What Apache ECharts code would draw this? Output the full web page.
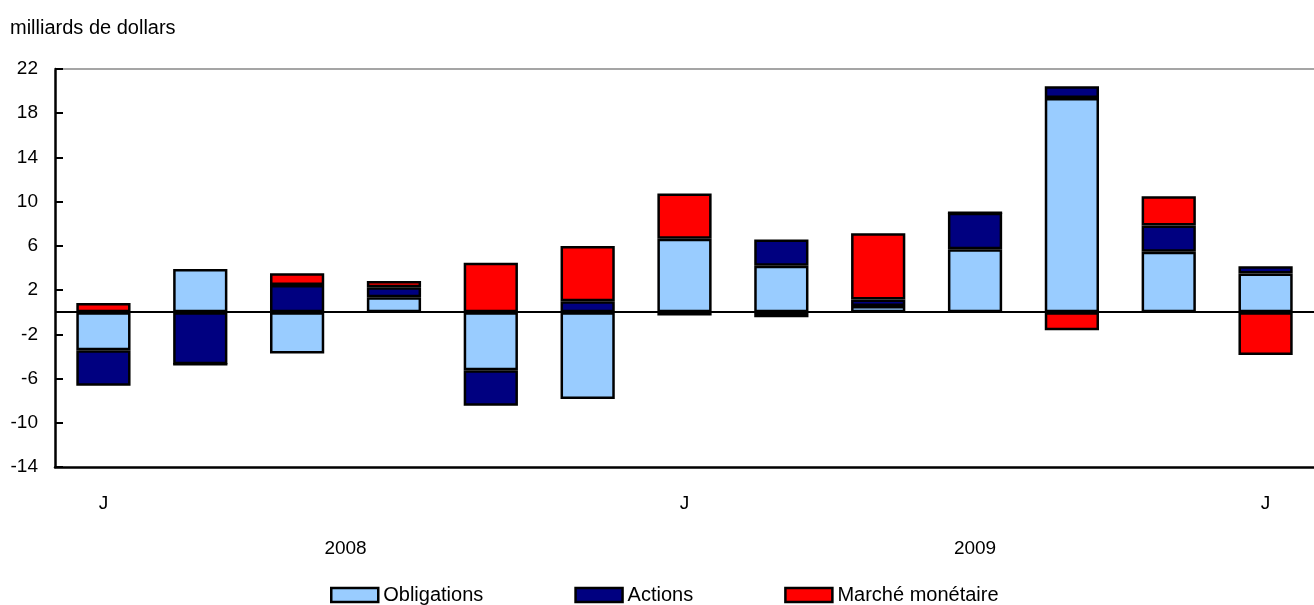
<!DOCTYPE html>
<html>
<head>
<meta charset="utf-8">
<script src="https://cdn.jsdelivr.net/npm/echarts@6/dist/echarts.min.js"></script>
<style>
html,body{margin:0;padding:0;background:#fff;}
#c{width:1314px;height:605px;}
</style>
</head>
<body>
<div id="c"></div>
<script>
const categories = ['J','A','S','O','N','D','J','F','M','A','M','J','J'];
const tickLabels = ['J','','','','','','J','','','','','','J'];
const years = ['2008','2009'];
const obligations = [-3.44, 3.9, -3.74, 1.36, -5.25, -7.84, 6.64, 4.2, 0.57, 5.7, 19.37, 5.48, 3.5];
const actions = [-3.2, -4.7, 2.47, 0.9, -3.22, 1.0, -0.3, 2.38, 0.57, 3.3, 1.08, 2.36, 0.66];
const marche = [0.84, 0, 1.06, 0.57, 4.47, 5.0, 4.1, -0.45, 6.0, 0, -1.63, 2.66, -3.86];

const font = '"Liberation Sans", Arial, Helvetica, sans-serif';
const chart = echarts.init(document.getElementById('c'));
const border = { borderColor: '#000', borderWidth: 2.5 };
chart.setOption({
  animation: false,
  textStyle: { fontFamily: font },
  grid: { left: 55, right: 0, top: 69, bottom: 138 },
  legend: {
    top: 580, left: 325, itemWidth: 47, itemHeight: 14, itemGap: 91, icon: 'rect',
    textStyle: { fontSize: 20, color: '#000', fontFamily: font },
    itemStyle: { borderColor: '#000', borderWidth: 2.5 },
    data: ['Obligations', 'Actions', 'Marché monétaire']
  },
  xAxis: [{
    type: 'category', data: categories,
    axisLine: { onZero: false, lineStyle: { color: '#000', width: 2.5 } },
    axisTick: { show: false },
    axisLabel: { interval: 0, margin: 27, fontSize: 19, color: '#000', fontFamily: font,
      formatter: (v, i) => tickLabels[i] }
  }, {
    type: 'category', data: categories, position: 'top',
    axisLine: { onZero: false, lineStyle: { color: '#888', width: 1.5 } },
    axisTick: { show: false }, axisLabel: { show: false }
  }],
  yAxis: {
    type: 'value', min: -14, max: 22, interval: 4,
    splitLine: { show: false },
    axisLine: { show: true, onZero: false, lineStyle: { color: '#000', width: 2.5 } },
    axisTick: { show: true, inside: true, length: 8, lineStyle: { color: '#000', width: 2 } },
    axisLabel: { fontSize: 19, color: '#000', margin: 17, fontFamily: font }
  },
  series: [
    { type: 'bar', stack: 'total', barWidth: '56%', name: 'Obligations', data: obligations, color: '#99CCFF',
      itemStyle: Object.assign({ color: '#99CCFF' }, border),
      markLine: { silent: true, symbol: 'none', label: { show: false },
        lineStyle: { color: '#000', width: 2, type: 'solid' }, data: [{ yAxis: 0 }] } },
    { type: 'bar', stack: 'total', barWidth: '56%', name: 'Actions', data: actions, color: '#000080',
      itemStyle: Object.assign({ color: '#000080' }, border) },
    { type: 'bar', stack: 'total', barWidth: '56%', name: 'Marché monétaire', data: marche, color: '#FF0000',
      itemStyle: Object.assign({ color: '#FF0000' }, border) }
  ]
});
const x2008 = (chart.convertToPixel({xAxisIndex: 0}, 2) + chart.convertToPixel({xAxisIndex: 0}, 3)) / 2;
const x2009 = chart.convertToPixel({xAxisIndex: 0}, 9);
chart.setOption({
  graphic: [
    { type: 'text', x: 10, y: 28, style: { text: 'milliards de dollars', fontSize: 20, fill: '#000', fontFamily: font, verticalAlign: 'middle' } },
    { type: 'text', x: x2008, y: 549, style: { text: years[0], fontSize: 19, fill: '#000', fontFamily: font, align: 'center', verticalAlign: 'middle' } },
    { type: 'text', x: x2009, y: 549, style: { text: years[1], fontSize: 19, fill: '#000', fontFamily: font, align: 'center', verticalAlign: 'middle' } }
  ]
});
</script>
</body>
</html>
